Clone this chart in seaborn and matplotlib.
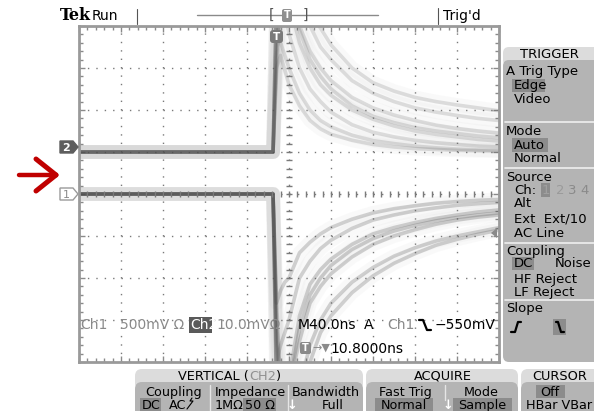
import numpy as np
import pandas as pd
import matplotlib
matplotlib.use("Agg")
import matplotlib.pyplot as plt
import matplotlib.transforms as mtrans
import seaborn as sns
from matplotlib.patches import Polygon, Rectangle, FancyBboxPatch
from matplotlib.lines import Line2D

# sample times in divisions (40 ns/div), trigger edge at about -0.38 div
t_div = [-5.0, -0.38, -0.3, -0.2, -0.1, 0.0, 0.25, 0.5, 0.75, 1.0, 1.5, 2.0, 2.5, 3.0, 3.5, 4.0, 4.5, 5.0]

# ch2 persistence traces (divisions, baseline ~ +1 div)
ch2_a = [1.0, 1.0, 3.0, 3.3, 2.95, 2.6, 2.1, 1.75, 1.55, 1.42, 1.28, 1.18, 1.12, 1.08, 1.06, 1.04, 1.03, 1.02]
ch2_b = [1.0, 1.0, 4.2, 3.6, 3.3, 3.0, 2.4, 2.0, 1.75, 1.6, 1.4, 1.27, 1.2, 1.14, 1.1, 1.07, 1.05, 1.04]
ch2_c = [1.0, 1.0, 3.5, 4.6, 4.3, 3.8, 3.0, 2.5, 2.2, 1.95, 1.65, 1.47, 1.36, 1.28, 1.22, 1.18, 1.14, 1.12]
ch2_d = [1.0, 1.0, 4.6, 4.6, 4.6, 4.6, 3.9, 3.2, 2.8, 2.5, 2.1, 1.85, 1.7, 1.58, 1.5, 1.44, 1.38, 1.34]
ch2_e = [1.0, 1.0, 2.8, 4.6, 4.6, 4.6, 3.6, 3.0, 2.6, 2.35, 2.0, 1.78, 1.62, 1.5, 1.42, 1.36, 1.3, 1.26]
ch2_f = [1.0, 1.0, 4.6, 4.6, 4.6, 4.6, 4.0, 3.4, 3.0, 2.7, 2.3, 2.05, 1.88, 1.75, 1.64, 1.56, 1.5, 1.45]
ch2_g = [1.0, 1.0, 3.2, 4.6, 4.6, 4.6, 4.6, 4.0, 3.5, 3.2, 2.7, 2.4, 2.2, 2.05, 1.95, 1.87, 1.8, 1.75]
ch2_h = [1.0, 1.0, 4.6, 4.6, 4.6, 4.6, 4.6, 4.3, 3.95, 3.55, 3.0, 2.65, 2.45, 2.3, 2.2, 2.12, 2.05, 1.98]

# ch1 persistence traces (divisions, baseline 0)
ch1_a = [0.0, 0.0, -2.6, -2.3, -2.1, -2.0, -1.4, -1.15, -0.95, -0.8, -0.6, -0.45, -0.35, -0.28, -0.22, -0.18, -0.15, -0.13]
ch1_b = [0.0, 0.0, -4.0, -3.6, -3.3, -3.0, -2.0, -1.6, -1.3, -1.1, -0.82, -0.62, -0.5, -0.4, -0.33, -0.27, -0.23, -0.2]
ch1_c = [0.0, 0.0, -3.0, -4.6, -4.6, -4.4, -2.9, -2.15, -1.8, -1.55, -1.2, -0.95, -0.8, -0.68, -0.58, -0.5, -0.43, -0.38]
ch1_d = [0.0, 0.0, -4.6, -4.6, -4.6, -4.6, -3.2, -2.4, -2.0, -1.7, -1.32, -1.06, -0.88, -0.75, -0.64, -0.56, -0.5, -0.45]
ch1_e = [0.0, 0.0, -2.5, -4.6, -4.6, -4.6, -3.5, -2.6, -2.2, -1.9, -1.5, -1.2, -1.0, -0.85, -0.72, -0.62, -0.55, -0.5]
ch1_f = [0.0, 0.0, -4.6, -4.6, -4.6, -4.6, -4.6, -3.6, -3.0, -2.6, -2.1, -1.75, -1.48, -1.28, -1.12, -1.0, -0.9, -0.8]
ch1_g = [0.0, 0.0, -3.5, -4.6, -4.6, -4.6, -4.6, -4.0, -3.3, -2.9, -2.35, -1.95, -1.65, -1.42, -1.22, -1.08, -0.96, -0.86]

ch2_traces = [ch2_a, ch2_b, ch2_c, ch2_d, ch2_e, ch2_f, ch2_g, ch2_h]
ch1_traces = [ch1_a, ch1_b, ch1_c, ch1_d, ch1_e, ch1_f, ch1_g]

rows = []
for ch, traces in (("ch2", ch2_traces), ("ch1", ch1_traces)):
    for i, tr in enumerate(traces):
        for t, v in zip(t_div, tr):
            rows.append((ch, f"{ch}_{i}", t, v))
df = pd.DataFrame(rows, columns=["channel", "trace", "t", "v"])

sns.set_style("white")
plt.rcParams['font.family'] = ['DejaVu Sans']

W, H = 594, 411
fig = plt.figure(figsize=(W / 100, H / 100), dpi=100)
fig.patch.set_facecolor("white")
# pixel coordinates, origin top-left
P = mtrans.Affine2D().scale(1 / W, -1 / H).translate(0, 1) + fig.transFigure

ax = fig.add_axes([79 / W, 1 - 362 / H, 420 / W, 336 / H])
ax.set_xlim(-5, 5)
ax.set_ylim(-4, 4)

# persistence: faint halo + core
for ch, alpha in (("ch2", 0.17), ("ch1", 0.24)):
    sub = df[df.channel == ch]
    sns.lineplot(data=sub, x="t", y="v", units="trace", estimator=None, color="#9a9a9a",
                 lw=10, alpha=0.05, ax=ax, legend=False)
    sns.lineplot(data=sub, x="t", y="v", units="trace", estimator=None, color="#4a4a4a",
                 lw=2.6, alpha=alpha, ax=ax, legend=False)

# graticule
ax.set_xticks(np.arange(-5, 5.01, 1))
ax.set_yticks(np.arange(-4, 4.01, 1))
ax.set_xticks(np.arange(-5, 5.01, 0.2), minor=True)
ax.set_yticks(np.arange(-4, 4.01, 0.2), minor=True)
ax.set_xticklabels([])
ax.set_yticklabels([])
ax.set_xlabel("")
ax.set_ylabel("")
ax.tick_params(which="both", direction="in", top=True, right=True, bottom=True, left=True,
               color="#8a8a8a", width=1)
ax.tick_params(which="major", length=4)
ax.tick_params(which="minor", length=3)
ax.grid(True, which="major", color="#7a7a7a", linestyle=(0, (1, 5.05)), lw=1)
mx = np.arange(-5, 5.01, 0.2)
my = np.arange(-4, 4.01, 0.2)
ax.plot(mx, np.zeros_like(mx), ls="none", marker="|", ms=5, color="#7a7a7a", mew=1)
ax.plot(np.zeros_like(my), my, ls="none", marker="_", ms=5, color="#7a7a7a", mew=1)
for s in ax.spines.values():
    s.set_color("#9a9a9a")
    s.set_linewidth(2)


def txt(x, y, s, size=9.5, color="black", ha="left", weight="normal", **kw):
    fig.text(x, y, s, transform=P, fontsize=size, color=color, ha=ha, va="center",
             fontweight=weight, **kw)


def rect(x0, y0, x1, y1, fc, round_=0, z=1):
    if round_:
        p = FancyBboxPatch((x0, y0), x1 - x0, y1 - y0, boxstyle=f"round,pad=0,rounding_size={round_}",
                           transform=P, fc=fc, ec="none", zorder=z)
    else:
        p = Rectangle((x0, y0), x1 - x0, y1 - y0, transform=P, fc=fc, ec="none", zorder=z)
    fig.add_artist(p)


def line(xs, ys, color="black", lw=1.0, z=3):
    fig.add_artist(Line2D(xs, ys, transform=P, color=color, lw=lw, zorder=z))


LIGHT, MID, HI = "#dcdcdc", "#b4b4b4", "#8c8c8c"

# top status line
txt(60, 16, "Tek", size=11.5, weight="bold", family="DejaVu Serif")
txt(92, 16, "Run", size=10)
line([137, 137], [9, 24], color="#555555", lw=0.8)
line([197, 378], [15, 15], color="#8a8a8a", lw=1)
txt(271, 15, "[", size=10, color="#555555", ha="center")
txt(305, 15, "]", size=10, color="#555555", ha="center")
rect(282, 9, 292, 22, "#909090", round_=2, z=3)
txt(287, 15.5, "T", size=7, color="white", ha="center", weight="bold", zorder=4)
line([438, 438], [8, 24], color="#555555", lw=0.8)
txt(443, 16, "Trig'd", size=10)

# trigger position marker on graticule
rect(270, 30, 283, 43, "#7a7a7a", round_=3, z=3)
txt(276.5, 36.5, "T", size=7.5, color="white", ha="center", weight="bold", zorder=4)

# channel reference tags
fig.add_artist(Polygon([(60, 141), (73, 141), (78, 147), (73, 153), (60, 153)], closed=True,
                       transform=P, fc="#5e5e5e", ec="#5e5e5e", zorder=3))
txt(66, 147.5, "2", size=8, color="white", ha="center", weight="bold", zorder=4)
fig.add_artist(Polygon([(60, 188), (73, 188), (78, 194), (73, 200), (60, 200)], closed=True,
                       transform=P, fc="white", ec="#9a9a9a", lw=1, zorder=3))
txt(66, 194.5, "1", size=8, color="#8a8a8a", ha="center", zorder=4)

# red arrow
line([19, 54], [175, 175], color="#c00000", lw=3.2, z=5)
line([36, 56], [159, 175], color="#c00000", lw=3.6, z=5)
line([36, 56], [191, 175], color="#c00000", lw=3.6, z=5)

# trigger level marker on right edge
fig.add_artist(Polygon([(491, 233), (497, 228), (497, 238)], closed=True, transform=P,
                       fc="#8a8a8a", ec="none", zorder=5))

# readouts on graticule
txt(80, 325, "Ch1", size=10, color="#8a8a8a")
txt(120, 325, "500mV \u03a9", size=10, color="#8a8a8a")
rect(189, 317, 212, 333, "#5a5a5a", z=3)
txt(190.5, 325, "Ch2", size=10, color="white", zorder=4)
txt(216, 325, "10.0mV\u03a9", size=10, color="#8a8a8a")
txt(298, 325, "M40.0ns", size=10)
txt(364, 325, "A", size=10)
txt(387, 325, "Ch1", size=10, color="#8a8a8a")
line([419, 423, 427, 431], [320, 320, 330, 330], color="black", lw=1.6)
txt(435, 325, "\u2212550mV", size=10)
rect(300, 342, 311, 354, "#8a8a8a", round_=2, z=3)
txt(305.5, 348, "T", size=7, color="white", ha="center", weight="bold", zorder=4)
txt(312, 348, "\u2192\u25bc", size=8, color="#8a8a8a")
txt(330, 349, "10.8000ns", size=10)

# TRIGGER menu
rect(503, 47, 600, 66, LIGHT, round_=6)
rect(503, 60, 600, 362, MID, round_=6)
txt(549, 54, "TRIGGER", ha="center")
for ys in (122, 168, 243, 300):
    line([505, 594], [ys, ys], color="#f0f0f0", lw=1.2)
txt(506, 72, "A Trig Type")
rect(512, 79, 545, 92, HI)
txt(514, 85.5, "Edge")
txt(514, 99, "Video")
txt(506, 131, "Mode")
rect(512, 138, 548, 152, HI)
txt(514, 145, "Auto")
txt(514, 158, "Normal")
txt(506, 177, "Source")
txt(514, 190, "Ch:")
rect(541, 183, 550, 197, HI)
txt(542, 190, "1", color="#a0a0a0")
txt(556, 190, "2", color="#9a9a9a")
txt(568, 190, "3", color="#8a8a8a")
txt(580, 190, "4", color="#8a8a8a")
txt(514, 203, "Alt")
txt(514, 219, "Ext  Ext/10")
txt(514, 233, "AC Line")
txt(506, 251, "Coupling")
rect(512, 257, 534, 270, HI)
txt(514, 263.5, "DC")
txt(591, 263.5, "Noise", ha="right")
txt(514, 279, "HF Reject")
txt(514, 292, "LF Reject")
txt(506, 308, "Slope")
line([511, 515, 518, 521], [332, 332, 322, 322], color="black", lw=1.6)
rect(553, 319, 566, 335, HI)
line([556, 558, 561, 564], [322, 322, 332, 332], color="black", lw=1.6)

# VERTICAL (CH2) menu
rect(135, 369, 363, 390, LIGHT, round_=7)
rect(135, 382, 363, 420, MID, round_=7)
txt(249, 376, "VERTICAL (", size=9.3, ha="right")
txt(249, 376, "CH2", size=9.3, color="#909090")
txt(276, 376, ")", size=9.3)
line([210, 210], [385, 411], color="#e6e6e6", lw=1)
line([288, 288], [385, 411], color="#e6e6e6", lw=1)
txt(174, 392, "Coupling", size=9.2, ha="center")
txt(250, 392, "Impedance", size=9.2, ha="center")
txt(326, 392, "Bandwidth", size=9.2, ha="center")
rect(140, 398, 161, 411, HI)
txt(142, 405, "DC", size=9.2)
txt(169, 405, "AC", size=9.2)
line([187, 193, 190, 192], [409, 401, 401, 398], color="black", lw=0.8)
txt(215, 405, "1M\u03a9", size=9.2)
rect(243, 398, 276, 411, HI)
txt(245, 405, "50 \u03a9", size=9.2)
txt(292, 405, "\u2193", size=9.2, color="white", ha="center", weight="bold")
txt(333, 405, "Full", size=9.2, ha="center")

# ACQUIRE menu
rect(366, 369, 518, 390, LIGHT, round_=7)
rect(366, 382, 518, 420, MID, round_=7)
txt(443, 376, "ACQUIRE", size=9.3, ha="center")
line([445, 445], [385, 400], color="#e6e6e6", lw=1)
txt(405, 392, "Fast Trig", size=9.2, ha="center")
txt(481, 392, "Mode", size=9.2, ha="center")
rect(375, 398, 433, 411, HI)
txt(404, 405, "Normal", size=9.2, ha="center")
txt(448, 405, "\u2193", size=9.2, color="white", ha="center", weight="bold")
rect(453, 398, 512, 411, HI)
txt(482, 405, "Sample", size=9.2, ha="center")

# CURSOR menu
rect(521, 369, 600, 390, LIGHT, round_=7)
rect(521, 382, 600, 420, MID, round_=7)
txt(560, 376, "CURSOR", size=9.3, ha="center")
rect(536, 385, 565, 398, HI)
txt(550, 392, "Off", size=9.2, ha="center")
txt(559, 405, "HBar VBar", size=9.2, ha="center")

fig.savefig("out.png", dpi=100, facecolor="white")
